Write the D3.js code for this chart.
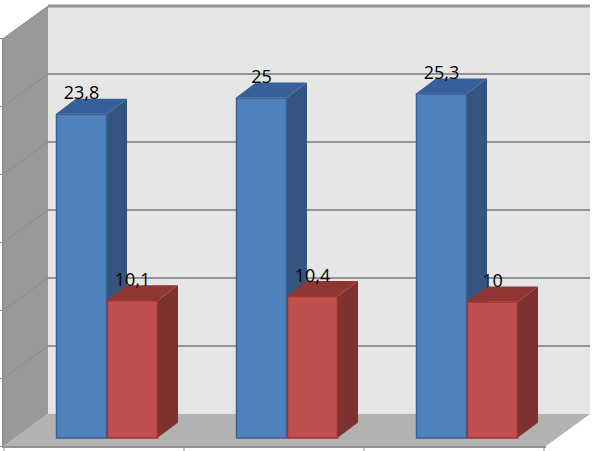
<!DOCTYPE html>
<html>
<head>
<meta charset="utf-8">
<script src="https://cdn.jsdelivr.net/npm/d3@7"></script>
<style>
  html, body { margin: 0; padding: 0; background: #fff; }
  svg { display: block; }
</style>
</head>
<body>
<svg width="594" height="451"></svg>
<script>
// Chart data
var categories = ["A", "B", "C"];
var seriesBlue = [23.8, 25, 25.3];
var seriesRed = [10.1, 10.4, 10];
var labelsBlue = ["23,8", "25", "25,3"];
var labelsRed = ["10,1", "10,4", "10"];
var yTicks = [0, 5, 10, 15, 20, 25, 30];

var svg = d3.select("svg");

// depth of the 3d box and of the bars
var depthX = 44, depthY = 32;
var barDepthX = 20, barDepthY = 15;

// front plane scales
var y = d3.scaleLinear().domain([0, 30]).range([446, 38]);
var x = d3.scaleBand().domain(categories).range([4, 544]);
var inner = d3.scaleBand().domain(["blue", "red"]).range([52, 154]);
var barBase = 8.5; // bars stand a bit behind the front edge of the floor

function poly(points) {
  return d3.line()(points) + "Z";
}

var x0 = x.range()[0], x1 = x.range()[1];

// back wall
svg.append("path")
  .attr("d", poly([[x0 + depthX, y(30) - depthY], [590, y(30) - depthY], [590, y(0) - depthY], [x0 + depthX, y(0) - depthY]]))
  .attr("fill", "#e6e6e6");

// left wall
svg.append("path")
  .attr("d", poly([[x0, y(30)], [x0 + depthX, y(30) - depthY], [x0 + depthX, y(0) - depthY], [x0, y(0)]]))
  .attr("fill", "#999999");

// floor
svg.append("path")
  .attr("d", poly([[x0, y(0)], [x0 + depthX, y(0) - depthY], [590, y(0) - depthY], [x1 + 2, y(0)]]))
  .attr("fill", "#b2b2b0");

// gridlines on the back wall and the left wall
svg.append("g").selectAll("line")
  .data(yTicks.slice(1))
  .join("line")
  .attr("x1", x0 + depthX).attr("x2", 590)
  .attr("y1", function(d) { return y(d) - depthY; })
  .attr("y2", function(d) { return y(d) - depthY; })
  .attr("stroke", "#929292")
  .attr("stroke-width", function(d) { return d == 30 ? 3 : 2; });

svg.append("g").selectAll("line")
  .data(yTicks.slice(1))
  .join("line")
  .attr("x1", x0).attr("x2", x0 + depthX)
  .attr("y1", function(d) { return y(d); })
  .attr("y2", function(d) { return y(d) - depthY; })
  .attr("stroke", "#8b8b8b")
  .attr("stroke-width", 1);

// front edges of the box
svg.append("path")
  .attr("d", d3.line()([[x0 - 1, y(30)], [x0 - 1, y(0) + 1], [x1 + 2, y(0) + 1]]))
  .attr("fill", "none")
  .attr("stroke", "#929292")
  .attr("stroke-width", 2);

// axes, ticks only
var yAxis = d3.axisLeft(y).tickValues(yTicks).tickSize(4).tickFormat("");
var gy = svg.append("g").attr("transform", "translate(" + (x0 - 1) + ",0)").call(yAxis);
gy.select(".domain").remove();
gy.selectAll("line").attr("stroke", "#929292");

svg.append("g").selectAll("line")
  .data(categories.concat(["end"]))
  .join("line")
  .attr("x1", function(d) { return d == "end" ? x1 : x(d); })
  .attr("x2", function(d) { return d == "end" ? x1 : x(d); })
  .attr("y1", y(0) + 1).attr("y2", y(0) + 5)
  .attr("stroke", "#929292");

// one 3d bar
function drawBar(g, left, value, c) {
  var w = inner.bandwidth();
  var top = y(value) - barBase, base = y(0) - barBase;
  var right = left + w;
  g.append("path")
    .attr("d", poly([[right, top], [right + barDepthX, top - barDepthY], [right + barDepthX, base - barDepthY], [right, base]]))
    .attr("fill", c.side);
  g.append("path")
    .attr("d", poly([[left, top], [left + barDepthX, top - barDepthY], [right + barDepthX, top - barDepthY], [right, top]]))
    .attr("fill", c.top);
  g.append("rect")
    .attr("x", left + 0.5).attr("y", top + 0.5)
    .attr("width", w - 1).attr("height", base - top)
    .attr("fill", c.front)
    .attr("stroke", c.edge)
    .attr("stroke-width", 1.5);
}

var blue = { front: "#4f81bd", top: "#37609a", side: "#33557f", edge: "#3a6193" };
var red = { front: "#c0504d", top: "#8f3532", side: "#7d3230", edge: "#a5302d" };

categories.forEach(function(cat, i) {
  var g = svg.append("g");
  drawBar(g, x(cat) + inner("blue"), seriesBlue[i], blue);
  drawBar(g, x(cat) + inner("red"), seriesRed[i], red);
});

// value labels
function addLabels(series, labels, key) {
  svg.append("g").selectAll("text")
    .data(categories)
    .join("text")
    .attr("x", function(d) { return x(d) + inner(key) + inner.bandwidth() / 2; })
    .attr("y", function(d, i) { return y(series[i]) - barBase - 14.5; })
    .attr("text-anchor", "middle")
    .attr("font-family", "'Open Sans', sans-serif")
    .attr("font-size", 18)
    .attr("fill", "#000")
    .text(function(d, i) { return labels[i]; });
}
addLabels(seriesBlue, labelsBlue, "blue");
addLabels(seriesRed, labelsRed, "red");
</script>
</body>
</html>
